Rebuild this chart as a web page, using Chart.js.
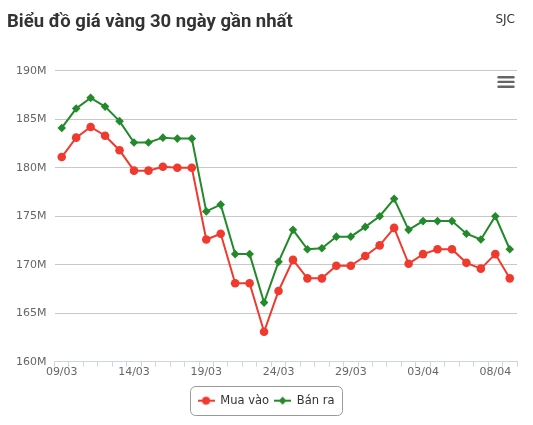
<!DOCTYPE html>
<html>
<head>
<meta charset="utf-8">
<script src="https://cdn.jsdelivr.net/npm/chart.js@4"></script>
<style>
    html, body { margin: 0; padding: 0; background: #fff; }
    #wrap { width: 533px; height: 425px; position: relative; }
</style>
</head>
<body>
<div id="wrap"><canvas id="goldChart" width="533" height="425"></canvas></div>
<script>
const dates = ['09/03', '10/03', '11/03', '12/03', '13/03', '14/03', '15/03', '16/03', '17/03', '18/03',
    '19/03', '20/03', '21/03', '22/03', '23/03', '24/03', '25/03', '26/03', '27/03', '28/03',
    '29/03', '30/03', '31/03', '01/04', '02/04', '03/04', '04/04', '05/04', '06/04', '07/04',
    '08/04', '09/04'];
// gia tinh theo trieu dong
const buy_prices = [181.1, 183.1, 184.2, 183.3, 181.8, 179.7, 179.7, 180.1, 180.0, 180.0,
    172.6, 173.2, 168.1, 168.1, 163.1, 167.3, 170.5, 168.6, 168.6, 169.9,
    169.9, 170.9, 172.0, 173.8, 170.1, 171.1, 171.6, 171.6, 170.2, 169.6,
    171.1, 168.6];
const sell_prices = [184.1, 186.1, 187.2, 186.3, 184.8, 182.6, 182.6, 183.1, 183.0, 183.0,
    175.5, 176.2, 171.1, 171.1, 166.1, 170.3, 173.6, 171.6, 171.7, 172.9,
    172.9, 173.9, 175.0, 176.8, 173.6, 174.5, 174.5, 174.5, 173.2, 172.6,
    175.0, 171.6];
const y_ticks = [160, 165, 170, 175, 180, 185, 190];

const buy_color = '#f03a2e';
const sell_color = '#238a2b';
const font_family = '"DejaVu Sans", sans-serif';
const legend_shift = 4;

function legendIcon(color, shape) {
    let c = document.createElement('canvas');
    c.width = 17;
    c.height = 10;
    let ctx = c.getContext('2d');
    ctx.strokeStyle = color;
    ctx.fillStyle = color;
    ctx.lineWidth = 2;
    ctx.beginPath();
    ctx.moveTo(0, 5);
    ctx.lineTo(17, 5);
    ctx.stroke();
    ctx.beginPath();
    if (shape == 'circle') {
        ctx.arc(8.5, 5, 4, 0, Math.PI * 2);
    } else {
        ctx.moveTo(8.5, 1);
        ctx.lineTo(12.5, 5);
        ctx.lineTo(8.5, 9);
        ctx.lineTo(4.5, 5);
        ctx.closePath();
    }
    ctx.fill();
    return c;
}

const extras = {
    id: 'extras',
    afterLayout(chart) {
        // legend is centred on the page, not on the plot
        chart.legend.left += legend_shift;
        chart.legend.right += legend_shift;
    },
    afterDraw(chart) {
        const ctx = chart.ctx;
        ctx.save();
        // SJC
        ctx.fillStyle = '#333';
        ctx.font = '12px ' + font_family;
        ctx.textAlign = 'right';
        ctx.textBaseline = 'middle';
        ctx.fillText('SJC', 515, 20);
        // menu icon
        ctx.strokeStyle = '#666';
        ctx.lineWidth = 2.4;
        ctx.lineCap = 'round';
        [77.2, 81.9, 86.8].forEach(function (y) {
            ctx.beginPath();
            ctx.moveTo(498.5, y);
            ctx.lineTo(513.5, y);
            ctx.stroke();
        });
        // legend border
        const boxes = chart.legend.legendHitBoxes;
        if (boxes && boxes.length) {
            let x0 = Math.min(...boxes.map(b => b.left)) - 8;
            let x1 = Math.max(...boxes.map(b => b.left + b.width)) + 7;
            let y0 = Math.min(...boxes.map(b => b.top)) - 8.5;
            let y1 = Math.max(...boxes.map(b => b.top + b.height)) + 8.5;
            ctx.strokeStyle = '#999';
            ctx.lineWidth = 1;
            ctx.beginPath();
            ctx.roundRect(Math.round(x0) + 0.5, Math.round(y0) + 0.5, Math.round(x1 - x0), Math.round(y1 - y0), 5);
            ctx.stroke();
        }
        ctx.restore();
    }
};

new Chart('goldChart', {
    type: 'line',
    data: {
        labels: dates,
        datasets: [{
            label: 'Mua vào',
            data: buy_prices,
            borderColor: buy_color,
            backgroundColor: buy_color,
            borderWidth: 2,
            pointStyle: 'circle',
            pointRadius: 4.3,
            pointBorderWidth: 0,
            tension: 0
        },
        {
            label: 'Bán ra',
            data: sell_prices,
            borderColor: sell_color,
            backgroundColor: sell_color,
            borderWidth: 2,
            pointStyle: 'rectRot',
            pointRadius: 4.3,
            pointBorderWidth: 0,
            tension: 0
        }]
    },
    options: {
        responsive: false,
        animation: false,
        devicePixelRatio: 1,
        layout: {
            padding: { left: 7, right: 16, top: 0, bottom: 8.6 }
        },
        scales: {
            x: {
                offset: true,
                afterFit: function (scale) { scale.height += 11.9; },
                grid: {
                    offset: true,
                    drawOnChartArea: false,
                    drawTicks: true,
                    tickLength: 5,
                    color: '#ccd6eb'
                },
                border: { color: '#ccd6eb' },
                ticks: {
                    autoSkip: false,
                    maxRotation: 0,
                    padding: -1,
                    color: '#666',
                    font: { family: font_family, size: 11 },
                    callback: function (value, index) {
                        return index % 5 == 0 ? dates[index] : '';
                    }
                }
            },
            y: {
                min: 160,
                max: 190,
                afterFit: function (scale) { scale.width = 47.5; },
                afterBuildTicks: function (scale) {
                    scale.ticks = y_ticks.map(v => ({ value: v }));
                },
                grid: { color: '#c8c8c8', drawTicks: false },
                border: { display: false },
                ticks: {
                    padding: 8,
                    color: '#666',
                    font: { family: font_family, size: 11 },
                    callback: function (value) { return value + 'M'; }
                }
            }
        },
        plugins: {
            title: {
                display: true,
                text: 'Biểu đồ giá vàng 30 ngày gần nhất',
                align: 'start',
                color: '#333',
                font: { family: 'Roboto', size: 18.5, weight: 'bold' },
                padding: { top: 11, bottom: 37.5 }
            },
            legend: {
                position: 'bottom',
                labels: {
                    usePointStyle: true,
                    pointStyleWidth: 17,
                    padding: 5,
                    color: '#333',
                    font: { family: font_family, size: 11.5 },
                    generateLabels: function (chart) {
                        return chart.data.datasets.map(function (ds, i) {
                            return {
                                text: ds.label,
                                fontColor: '#333',
                                pointStyle: legendIcon(ds.borderColor, i == 0 ? 'circle' : 'diamond'),
                                datasetIndex: i,
                                hidden: false,
                                lineWidth: 0
                            };
                        });
                    }
                }
            },
            tooltip: { enabled: false }
        }
    },
    plugins: [extras]
});
</script>
</body>
</html>
